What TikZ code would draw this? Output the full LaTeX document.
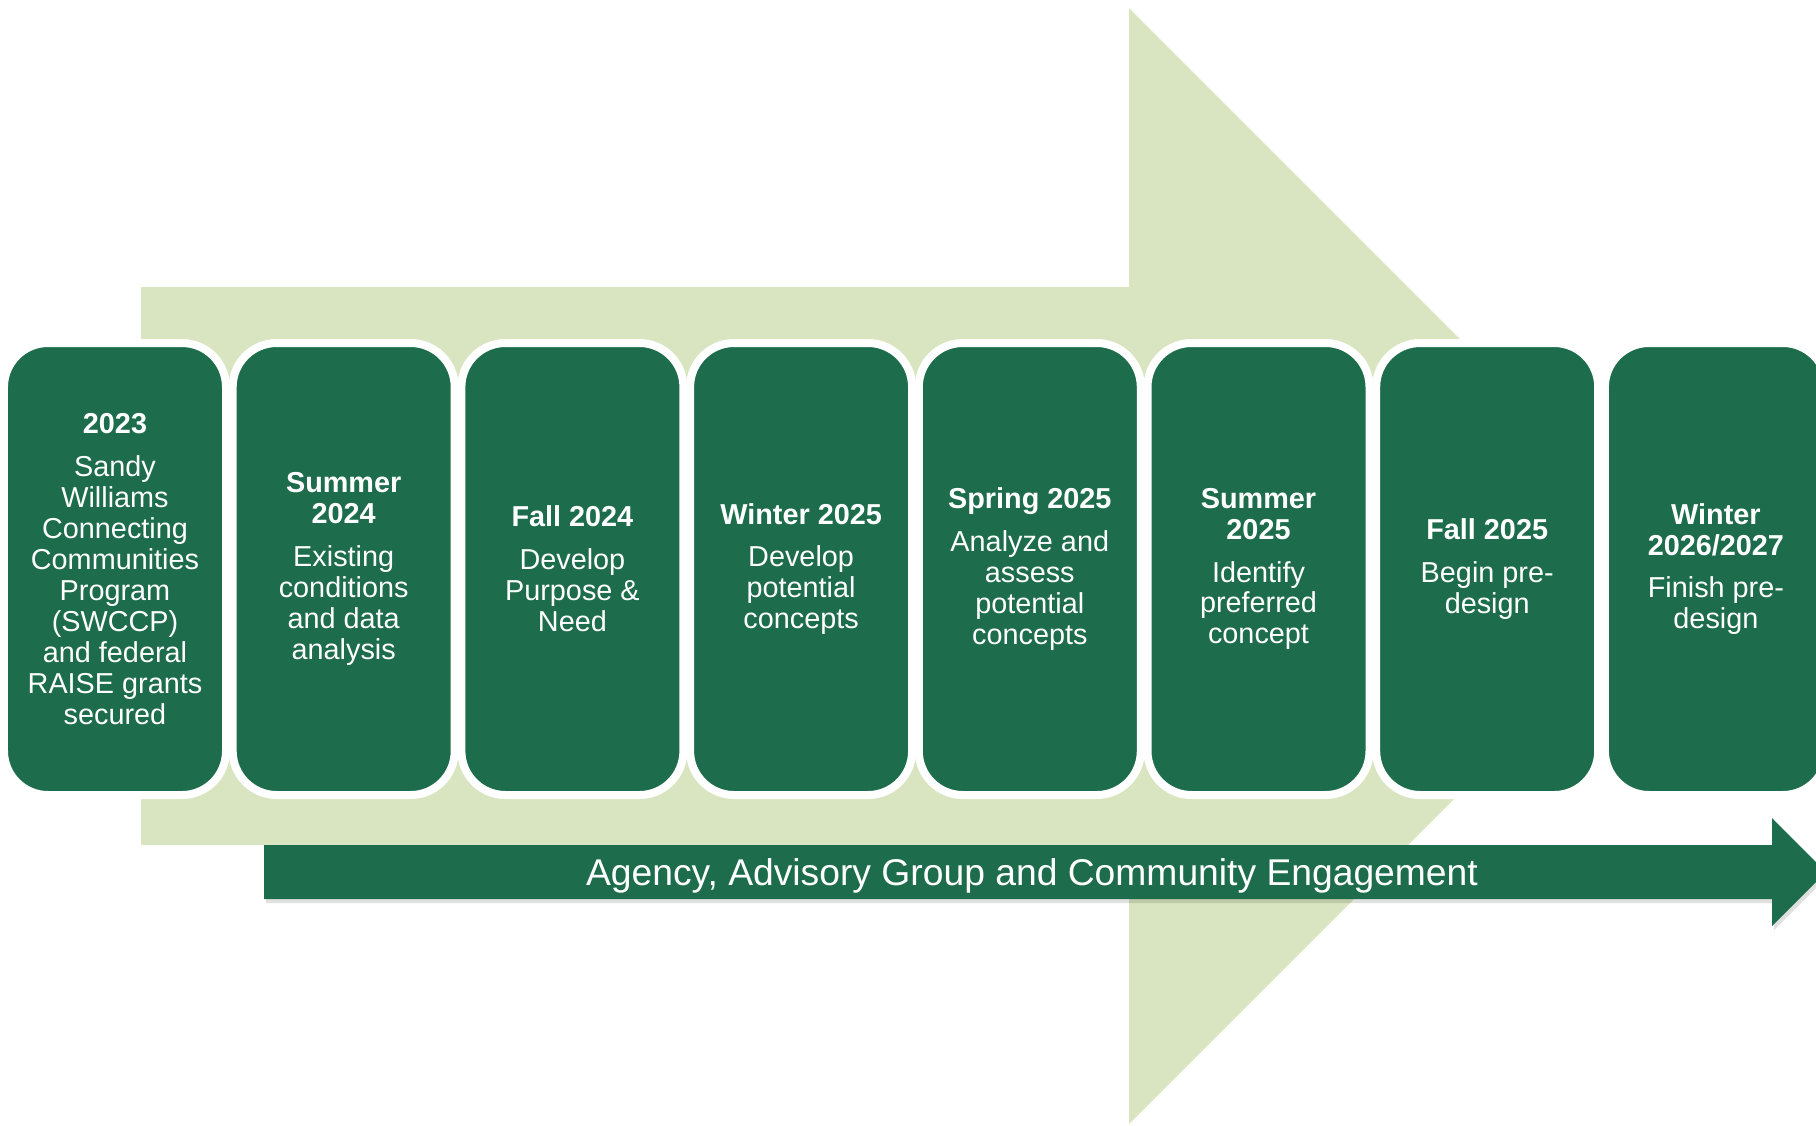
\documentclass[tikz,border=0pt]{standalone}
\usepackage{fontspec}
\setmainfont{Liberation Sans}
\definecolor{phasegreen}{RGB}{29,109,76}
\definecolor{paleback}{RGB}{217,229,192}

\begin{document}
\begin{tikzpicture}[x=1mm,y=-1mm,
    phase/.style={draw=white,line width=0.8mm,fill=phasegreen,rounded corners=4.4mm,
      minimum width=22.2mm,minimum height=45.2mm,inner sep=0.5mm,align=center,
      text=white,font=\fontsize{8.2}{8.8}\selectfont}]
    \useasboundingbox (0,0) rectangle (181.6,112.5);
    \clip (0,0) rectangle (181.6,112.5);

    % big pale arrow behind the phases
    \fill[paleback] (14.1,28.7) -- (112.9,28.7) -- (112.9,0.8) -- (168.7,56.6) -- (112.9,112.4) -- (112.9,84.5) -- (14.1,84.5) -- cycle;

    \node[phase] (p1) at (11.5,56.9){\textbf{2023}\\[3.4pt]Sandy\\Williams\\Connecting\\Communities\\Program\\(SWCCP)\\and federal\\RAISE grants\\secured};
    \node[phase] (p2) at (34.37,56.9){\textbf{Summer}\\\textbf{2024}\\[3.4pt]Existing\\conditions\\and data\\analysis};
    \node[phase] (p3) at (57.24,56.9){\textbf{Fall 2024}\\[3.4pt]Develop\\Purpose \&\\Need};
    \node[phase] (p4) at (80.11,56.9){\textbf{Winter 2025}\\[3.4pt]Develop\\potential\\concepts};
    \node[phase] (p5) at (102.98,56.9){\textbf{Spring 2025}\\[3.4pt]Analyze and\\assess\\potential\\concepts};
    \node[phase] (p6) at (125.85,56.9){\textbf{Summer}\\\textbf{2025}\\[3.4pt]Identify\\preferred\\concept};
    \node[phase] (p7) at (148.72,56.9){\textbf{Fall 2025}\\[3.4pt]Begin pre-\\design};
    \node[phase] (p8) at (171.59,56.9){\textbf{Winter}\\\textbf{2026/2027}\\[3.4pt]Finish pre-\\design};

    % engagement arrow along the bottom, with a faint shadow
    \fill[black,opacity=0.12] (26.6,84.9) -- (177.4,84.9) -- (177.4,82.2) -- (182.8,87.6) -- (177.4,93.0) -- (177.4,90.3) -- (26.6,90.3) -- cycle;
    \fill[phasegreen] (26.4,84.5) -- (177.2,84.5) -- (177.2,81.8) -- (182.6,87.2) -- (177.2,92.6) -- (177.2,89.9) -- (26.4,89.9) -- cycle;
    \node[text=white,font=\fontsize{10.6}{12}\selectfont] (engage) at (103.2,87.6){Agency, Advisory Group and Community Engagement};
\end{tikzpicture}
\end{document}
